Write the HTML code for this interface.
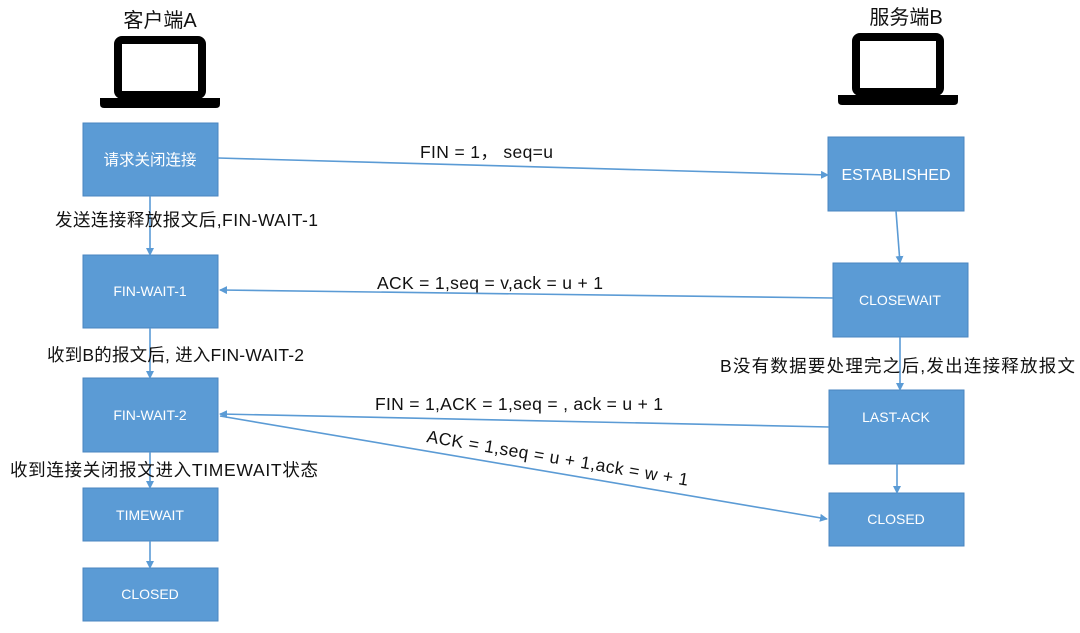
<!DOCTYPE html>
<html><head><meta charset="utf-8"><style>
body{margin:0;background:#fff;}
svg{display:block;font-family:"Liberation Sans","Noto Sans CJK SC",sans-serif;}
.b{fill:#5b9bd5;stroke:#4a86c0;stroke-width:1}
.bt{fill:#fff;font-size:14px;text-anchor:middle}
.l{stroke:#5b9bd5;stroke-width:1.6;fill:none;marker-end:url(#a)}
.t{font-size:17.5px;fill:#111}
</style></head><body>
<svg width="1080" height="633" viewBox="0 0 1080 633">
<defs><marker id="a" markerWidth="8" markerHeight="8" refX="7" refY="4" orient="auto" markerUnits="userSpaceOnUse"><path d="M0,0 L8,4 L0,8 z" fill="#5b9bd5"/></marker></defs>
<text x="160" y="27" class="t" text-anchor="middle" style="font-size:20px">客户端A</text>
<text x="906" y="24" class="t" text-anchor="middle" style="font-size:20px">服务端B</text>
<rect x="118" y="40" width="84" height="55" rx="4" fill="none" stroke="#000" stroke-width="8"/>
<path d="M100 98 H220 V104 Q220 108 216 108 H104 Q100 108 100 104 Z" fill="#000"/>
<rect x="856" y="37" width="84" height="55" rx="4" fill="none" stroke="#000" stroke-width="8"/>
<path d="M838 95 H958 V101 Q958 105 954 105 H842 Q838 105 838 101 Z" fill="#000"/>
<rect class="b" x="83" y="123" width="135" height="73"/><text class="bt" x="150" y="165" style="font-size:15.5px">请求关闭连接</text>
<rect class="b" x="83" y="255" width="135" height="73"/><text class="bt" x="150" y="296">FIN-WAIT-1</text>
<rect class="b" x="83" y="378" width="135" height="74"/><text class="bt" x="150" y="420">FIN-WAIT-2</text>
<rect class="b" x="83" y="488" width="135" height="53"/><text class="bt" x="150" y="520">TIMEWAIT</text>
<rect class="b" x="83" y="568" width="135" height="53"/><text class="bt" x="150" y="599">CLOSED</text>
<rect class="b" x="828" y="137" width="136" height="74"/><text class="bt" x="896" y="180" style="font-size:16px">ESTABLISHED</text>
<rect class="b" x="833" y="263" width="135" height="74"/><text class="bt" x="900" y="305">CLOSEWAIT</text>
<rect class="b" x="829" y="390" width="135" height="74"/><text class="bt" x="896" y="422">LAST-ACK</text>
<rect class="b" x="829" y="493" width="135" height="53"/><text class="bt" x="896" y="524">CLOSED</text>
<path class="l" d="M150 196 V255"/>
<path class="l" d="M150 328 V378"/>
<path class="l" d="M150 452 V488"/>
<path class="l" d="M150 541 V568"/>
<path class="l" d="M896 211 L900 263"/>
<path class="l" d="M900 337 V390"/>
<path class="l" d="M897 464 V493"/>
<path class="l" d="M218 158 L828 175"/>
<path class="l" d="M833 298 L220 290"/>
<path class="l" d="M829 427 L220 414"/>
<path class="l" d="M220 416 L827 519"/>
<text class="t" x="420" y="158" textLength="133">FIN = 1， seq=u</text>
<text class="t" x="55" y="226" textLength="263">发送连接释放报文后,FIN-WAIT-1</text>
<text class="t" x="377" y="289" textLength="226">ACK = 1,seq = v,ack = u + 1</text>
<text class="t" x="47" y="361" textLength="257">收到B的报文后, 进入FIN-WAIT-2</text>
<text class="t" x="720" y="372" textLength="355">B没有数据要处理完之后,发出连接释放报文</text>
<text class="t" x="375" y="410" textLength="288">FIN = 1,ACK = 1,seq = , ack = u + 1</text>
<text class="t" x="426" y="442" transform="rotate(9.5 426 442)" textLength="265">ACK = 1,seq = u + 1,ack = w + 1</text>
<text class="t" x="10" y="476" textLength="308">收到连接关闭报文进入TIMEWAIT状态</text>
</svg>
</body></html>
